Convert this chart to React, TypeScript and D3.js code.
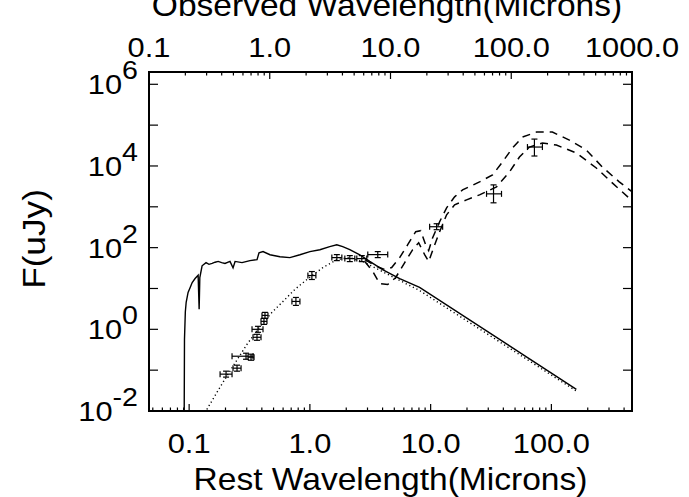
import React from "react";
import * as d3 from "d3";

// ---------- data ----------
const redshift = 1.15;
const obsDomain = [0.1, 1000];
const fluxDomain = [0.01, 2e6];

const restTickValues = [0.1, 1, 10, 100];
const restTickLabels = ["0.1", "1.0", "10.0", "100.0"];
const obsTickValues = [0.1, 1, 10, 100, 1000];
const obsTickLabels = ["0.1", "1.0", "10.0", "100.0", "1000.0"];
const fluxLabelExponents = [-2, 0, 2, 4, 6];

// stellar template (solid)
const stellarWave = [0.091, 0.0915, 0.093, 0.0945, 0.098, 0.102, 0.106, 0.112, 0.1187, 0.121, 0.1226, 0.128, 0.138, 0.146, 0.155, 0.164, 0.174, 0.186, 0.198, 0.218, 0.231, 0.24, 0.274, 0.319, 0.365, 0.379, 0.409, 0.467, 0.565, 0.683, 0.827, 1.0, 1.21, 1.46, 1.67, 1.87, 2.14, 2.59, 3.13, 4.0, 5.54, 8.1, 161];
const stellarFlux = [0.0085, 0.57, 2.7, 4.6, 8.0, 10.6, 14, 17.5, 21, 3.1, 18.5, 36, 43, 39, 41, 44, 46, 43, 41, 46, 32, 46, 43, 48, 51, 75, 80, 67, 60, 57, 67, 80, 89, 106, 118, 106, 89, 67, 46, 29, 17.5, 10.6, 0.034];

// reddened template (dotted)
const dustWave = [0.133, 0.1409, 0.1804, 0.2309, 0.3015, 0.386, 0.485, 0.598, 0.751, 0.9445, 1.28, 1.672, 2.14, 2.74, 3.44, 5.54, 8.11, 161];
const dustFlux = [0.00714, 0.0112, 0.0385, 0.125, 0.43, 1.18, 2.6, 4.8, 9.5, 16.6, 32.5, 51, 57, 45.6, 32.5, 15.7, 8.9, 0.0307];

// dust emission models (dashed)
const upperWave = [2.85, 3.45, 4.17, 4.76, 5.54, 6.46, 7.52, 8.27, 9.09, 9.63, 10.39, 11.87, 13.56, 15.79, 18.39, 25.41, 32.54, 39.36, 47.62, 57.6, 75.2, 101.9, 140.9, 194.7, 263.9, 364.8, 467];
const upperFlux = [51, 36.4, 29.1, 32.5, 57, 118, 246, 260, 118, 84.5, 175, 431, 945, 1753, 2598, 4072, 6033, 12520, 27480, 50960, 67490, 67490, 43070, 24560, 9454, 4072, 2322];
const lowerWave = [2.85, 3.32, 3.79, 4.41, 5.14, 6.1, 7.1, 7.96, 8.92, 9.63, 10.59, 11.87, 13.56, 15.79, 19.84, 25.41, 35.13, 44.98, 54.39, 65.8, 84.25, 110, 160.9, 235.5, 319.3, 467];
const lowerFlux = [45.6, 26, 13.2, 12.5, 18.6, 43.1, 89.4, 132, 67.5, 45.6, 100, 246, 638, 1119, 1482, 1962, 3075, 7140, 16580, 29070, 36390, 32520, 20760, 8938, 3849, 1401];

// photometry with error bars
const pointWave = [0.2022, 0.2492, 0.2959, 0.3255, 0.3647, 0.3716, 0.4166, 0.4247, 0.7661, 1.0387, 1.672, 2.141, 2.691, 3.648, 11.21, 33.17, 72.36];
const pointFlux = [0.0799, 0.1119, 0.2195, 0.2076, 0.638, 1.0, 1.567, 2.195, 4.818, 20.75, 57, 53.9, 53.9, 67.5, 325.2, 2076, 29070];
const waveLo = [0.1804, 0.2309, 0.2266, 0.3073, 0.338, 0.3317, 0.3937, 0.4012, 0.7099, 0.9627, 1.52, 1.947, 2.446, 3.016, 9.81, 29.03, 63.35];
const waveHi = [0.2266, 0.2691, 0.338, 0.3446, 0.3937, 0.409, 0.441, 0.4496, 0.8269, 1.121, 1.839, 2.355, 2.959, 4.412, 12.57, 38.63, 84.25];
const fluxLo = [0.0676, 0.0945, 0.185, 0.175, 0.539, 0.845, 1.32, 1.85, 3.85, 16.6, 48.1, 45.5, 45.5, 57.0, 275, 1252, 17530];
const fluxHi = [0.0945, 0.1325, 0.26, 0.246, 0.755, 1.184, 1.855, 2.6, 6.03, 26.0, 67.5, 63.8, 63.8, 80, 385, 3441, 45540];

// ---------- layout ----------
const W = 689, H = 497;
const L = 149, R = 632, T = 72, B = 411;
const FONT = "'Liberation Sans', Arial, Helvetica, sans-serif";
const SX = 1.1;

export default function App() {
  const xObs = d3.scaleLog().domain(obsDomain).range([L, R]);
  const xRest = d3.scaleLog().domain([obsDomain[0] / (1 + redshift), obsDomain[1] / (1 + redshift)]).range([L, R]);
  const y = d3.scaleLog().domain(fluxDomain).range([B, T]);

  const zip = (a: number[], b: number[]) => a.map((v, i) => [v, b[i]] as [number, number]);
  const line = d3.line<[number, number]>().x(d => xRest(d[0])).y(d => y(d[1]));

  const isPow10 = (v: number) => Math.abs(Math.log10(v) - Math.round(Math.log10(v))) < 1e-6;
  const restTicks = xRest.ticks();
  const obsTicks = xObs.ticks();
  const yTicks = y.ticks().filter(isPow10);

  const cap = 3;

  return (
    <svg width={W} height={H} style={{ position: "absolute", left: 0, top: 0, background: "#fff" }} fontFamily={FONT}>
      <defs>
        <clipPath id="plot"><rect x={L} y={T} width={R - L} height={B - T} /></clipPath>
      </defs>
      <rect x={0} y={0} width={W} height={H} fill="#fff" />

      {/* curves */}
      <g clipPath="url(#plot)" fill="none" stroke="#000">
        <path d={line(zip(stellarWave, stellarFlux)) || ""} strokeWidth={1.4} />
        <path d={line(zip(dustWave, dustFlux)) || ""} strokeWidth={1.4} strokeDasharray="1.2 2.8" />
        <path d={line(zip(upperWave, upperFlux)) || ""} strokeWidth={1.5} strokeDasharray="8 6" />
        <path d={line(zip(lowerWave, lowerFlux)) || ""} strokeWidth={1.5} strokeDasharray="8 6" />
        {pointWave.map((w, i) => {
          const cx = xRest(w), cy = y(pointFlux[i]);
          const x0 = xRest(waveLo[i]), x1 = xRest(waveHi[i]);
          const y0 = y(fluxLo[i]), y1 = y(fluxHi[i]);
          return (
            <g key={i} strokeWidth={1.2}>
              <line x1={x0} x2={x1} y1={cy} y2={cy} />
              <line x1={x0} x2={x0} y1={cy - cap} y2={cy + cap} />
              <line x1={x1} x2={x1} y1={cy - cap} y2={cy + cap} />
              <line x1={cx} x2={cx} y1={y0} y2={y1} />
              <line x1={cx - cap} x2={cx + cap} y1={y0} y2={y0} />
              <line x1={cx - cap} x2={cx + cap} y1={y1} y2={y1} />
            </g>
          );
        })}
      </g>

      {/* frame */}
      <rect x={L} y={T} width={R - L} height={B - T} fill="none" stroke="#000" strokeWidth={2} />

      {/* ticks */}
      <g stroke="#000" strokeWidth={1.2}>
        {restTicks.map((t, i) => {
          const len = isPow10(t) ? 7 : 3.5;
          return <line key={"b" + i} x1={xRest(t)} x2={xRest(t)} y1={B} y2={B - len} />;
        })}
        {obsTicks.map((t, i) => {
          const len = isPow10(t) ? 7 : 3.5;
          return <line key={"t" + i} x1={xObs(t)} x2={xObs(t)} y1={T} y2={T + len} />;
        })}
        {yTicks.map((t, i) => (
          <g key={"y" + i}>
            <line x1={L} x2={L + 9} y1={y(t)} y2={y(t)} />
            <line x1={R} x2={R - 9} y1={y(t)} y2={y(t)} />
          </g>
        ))}
      </g>

      {/* bottom tick labels */}
      {restTickValues.map((t, i) => (
        <g key={"bl" + i} transform={`translate(${xRest(t)},453) scale(${SX},1)`}>
          <text textAnchor="middle" fontSize={28} fill="#000">{restTickLabels[i]}</text>
        </g>
      ))}
      {/* top tick labels */}
      {obsTickValues.map((t, i) => (
        <g key={"tl" + i} transform={`translate(${xObs(t)},57) scale(${SX},1)`}>
          <text textAnchor="middle" fontSize={28} fill="#000">{obsTickLabels[i]}</text>
        </g>
      ))}
      {/* y labels */}
      {fluxLabelExponents.map((e, i) => (
        <g key={"yl" + i} transform={`translate(138,${y(Math.pow(10, e)) + 10}) scale(${SX},1)`}>
          <text textAnchor="end" fontSize={28} fill="#000">
            10<tspan fontSize={26} dy={-15}>{e < 0 ? "-" + Math.abs(e) : String(e)}</tspan>
          </text>
        </g>
      ))}

      {/* titles */}
      <g transform={`translate(${(L + R) / 2},490) scale(${SX},1)`}>
        <text textAnchor="middle" fontSize={30.5} fill="#000">Rest Wavelength(Microns)</text>
      </g>
      <g transform={`translate(387,16) scale(${SX},1)`}>
        <text textAnchor="middle" fontSize={30.5} fill="#000">Observed Wavelength(Microns)</text>
      </g>
      <g transform={`translate(45,239) rotate(-90) scale(${SX},1)`}>
        <text textAnchor="middle" fontSize={32} fill="#000">F(uJy)</text>
      </g>
    </svg>
  );
}
